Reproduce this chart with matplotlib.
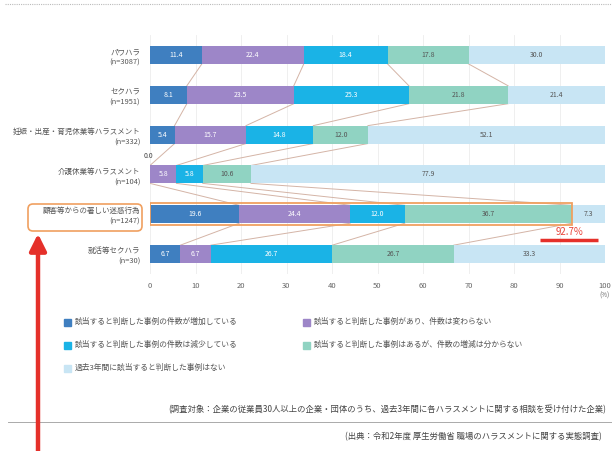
import matplotlib
matplotlib.use("Agg")
import matplotlib.pyplot as plt
from matplotlib.patches import FancyBboxPatch, Rectangle
import numpy as np

plt.rcParams['font.family'] = ['Noto Sans CJK JP', 'DejaVu Sans']

categories = ["パワハラ\n(n=3087)", "セクハラ\n(n=1951)", "妊娠・出産・育児休業等ハラスメント\n(n=332)",
              "介護休業等ハラスメント\n(n=104)", "顧客等からの著しい迷惑行為\n(n=1247)", "就活等セクハラ\n(n=30)"]
series_names = ["該当すると判断した事例の件数が増加している",
                "該当すると判断した事例があり、件数は変わらない",
                "該当すると判断した事例の件数は減少している",
                "該当すると判断した事例はあるが、件数の増減は分からない",
                "過去3年間に該当すると判断した事例はない"]
increase = [11.4, 8.1, 5.4, 0.0, 19.6, 6.7]
same = [22.4, 23.5, 15.7, 5.8, 24.4, 6.7]
decrease = [18.4, 25.3, 14.8, 5.8, 12.0, 26.7]
unknown = [17.8, 21.8, 12.0, 10.6, 36.7, 26.7]
none_ = [30.0, 21.4, 52.1, 77.9, 7.3, 33.3]
xticks = [0, 10, 20, 30, 40, 50, 60, 70, 80, 90, 100]
highlight_total = "92.7%"

colors = ['#3f7fc0', '#9d86c8', '#1ab3e6', '#90d3c2', '#c8e5f4']
text_colors = ['white', 'white', 'white', '#555555', '#555555']

W, H = 612, 451
fig = plt.figure(figsize=(W / 100, H / 100), dpi=100)

# overlay axes in pixel coordinates
ov = fig.add_axes([0, 0, 1, 1], zorder=3)
ov.set_xlim(0, W)
ov.set_ylim(H, 0)
ov.axis('off')
ov.patch.set_alpha(0)

ax = fig.add_axes([150 / W, 1 - 274 / H, 455 / W, 239 / H], zorder=2)
ax.patch.set_alpha(0)
data = np.array([increase, same, decrease, unknown, none_])
n = len(categories)
y = np.arange(n)
bh = 0.45
left = np.zeros(n)
for k in range(5):
    ax.barh(y, data[k], left=left, height=bh, color=colors[k], zorder=2)
    for i in range(n):
        v = data[k][i]
        if v > 0:
            ax.text(left[i] + v / 2, y[i], f"{v:.1f}", ha='center', va='center',
                    fontsize=5, color=text_colors[k], zorder=4)
    left = left + data[k]

# zero label for 介護
ax.text(-0.4, 3 - 0.36, "0.0", ha='center', va='bottom', fontsize=5, color='#444444')

# series lines
cum = np.cumsum(data, axis=0)
for k in range(4):
    for i in range(n - 1):
        ax.plot([cum[k][i], cum[k][i + 1]], [y[i] + bh / 2, y[i + 1] - bh / 2],
                color='#d4b4a6', lw=0.7, zorder=1)

ax.set_xlim(0, 100)
ax.set_ylim(n - 0.5, -0.5)
ax.set_xticks(xticks)
ax.set_xticklabels([str(t) for t in xticks], fontsize=5.5, color='#666666')
ax.set_yticks(y)
ax.set_yticklabels(categories, fontsize=5.4, color='#555555', linespacing=1.45)
ax.tick_params(axis='both', length=0)
ax.tick_params(axis='y', pad=7)
ax.tick_params(axis='x', pad=6)
ax.grid(axis='x', color='#ececec', lw=0.6, zorder=0)
ax.set_axisbelow(True)
for s in ax.spines.values():
    s.set_visible(False)
ax.text(100, n - 0.5 + 0.55, "(%)", ha='center', va='center', fontsize=4.5, color='#666666')

# highlight around 顧客 bar
ax.add_patch(Rectangle((0, 4 - 0.27), cum[3][4], 0.54, fill=False, ec='#f0a060', lw=1.3, zorder=5))
ax.text(cum[3][4] - 0.5, 4 + 0.45, highlight_total, ha='center', va='center', fontsize=7,
        color='#e8443a', zorder=5)
ov.plot([540, 598], [240, 240], color='#e5302a', lw=2.5, solid_capstyle='butt')

# rounded box around label
ov.add_patch(FancyBboxPatch((28, 204), 114, 27, boxstyle="round,pad=0,rounding_size=5",
                            fill=False, ec='#f0a060', lw=1.2))

# red arrow
ov.annotate("", xy=(38, 231), xytext=(38, 455),
            arrowprops=dict(arrowstyle='-|>,head_width=0.5,head_length=1.0', color='#e5302a', lw=3.2))

# top dotted line
ov.plot([5, 612], [4, 4], color='#bbbbbb', lw=0.8, ls=(0, (1, 1)))

# legend
leg_pos = [(64, 322), (303, 322), (64, 345), (303, 345), (64, 368)]
for k, (lx, ly) in enumerate(leg_pos):
    ov.add_patch(Rectangle((lx, ly - 3.5), 7, 7, color=colors[k]))
    ov.text(lx + 11, ly, series_names[k], ha='left', va='center', fontsize=5.6, color='#555555')

# footnotes
ov.text(168, 410, "(調査対象：企業の従業員30人以上の企業・団体のうち、過去3年間に各ハラスメントに関する相談を受け付けた企業)",
        ha='left', va='center', fontsize=6.0, color='#444444')
ov.plot([8, 612], [422, 422], color='#aaaaaa', lw=0.7)
ov.text(345, 437, "(出典：令和2年度 厚生労働省 職場のハラスメントに関する実態調査)",
        ha='left', va='center', fontsize=6.0, color='#444444')

fig.savefig("out.png", dpi=100)
